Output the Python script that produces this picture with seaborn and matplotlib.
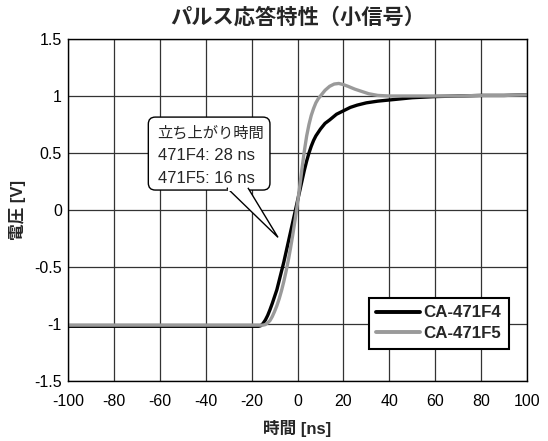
import numpy as np
import pandas as pd
import seaborn as sns
import matplotlib.pyplot as plt
from matplotlib.patches import FancyBboxPatch, Polygon

# Step response samples (time in ns, normalised voltage)
t_f4 = [-100, -80, -60, -40, -20, -17, -16, -15, -14, -13, -12, -11, -10, -9, -8, -7, -6, -5,
        -4, -3, -2, -1, 0, 1, 2, 3, 4, 5, 6, 7, 8, 10, 12, 14, 17, 20, 23, 26, 30, 35, 40, 50,
        60, 70, 80, 90, 100]
v_f4 = [-1.02, -1.02, -1.02, -1.02, -1.02, -1.02, -1.015, -0.995, -0.965, -0.925, -0.875,
        -0.82, -0.76, -0.70, -0.62, -0.54, -0.46, -0.37, -0.28, -0.19, -0.10, -0.01, 0.08,
        0.17, 0.26, 0.35, 0.43, 0.50, 0.56, 0.61, 0.65, 0.71, 0.76, 0.79, 0.84, 0.87, 0.90,
        0.92, 0.94, 0.955, 0.965, 0.985, 0.995, 1.0, 1.005, 1.005, 1.01]

t_f5 = [-100, -80, -60, -40, -20, -15, -14, -13, -12, -11, -10, -9, -8, -7, -6, -5, -4, -3,
        -2, -1, 0, 1, 2, 3, 4, 5, 6, 7, 8, 9, 10, 12, 14, 16, 18, 20, 22, 25, 28, 31, 35, 40,
        50, 60, 70, 80, 90, 100]
v_f5 = [-1.01, -1.01, -1.01, -1.01, -1.01, -1.01, -1.005, -0.99, -0.97, -0.935, -0.89,
        -0.84, -0.78, -0.71, -0.63, -0.54, -0.44, -0.33, -0.21, -0.08, 0.06, 0.21, 0.37, 0.52,
        0.65, 0.75, 0.83, 0.89, 0.94, 0.975, 1.0, 1.05, 1.085, 1.105, 1.11, 1.10, 1.085, 1.06,
        1.04, 1.02, 1.005, 1.0, 1.0, 1.0, 1.0, 1.005, 1.005, 1.01]

series_names = ["CA-471F4", "CA-471F5"]
series_colors = ["#000000", "#9a9a9a"]

x_ticks = [-100, -80, -60, -40, -20, 0, 20, 40, 60, 80, 100]
y_ticks = [-1.5, -1, -0.5, 0, 0.5, 1, 1.5]
y_tick_labels = ["-1.5", "-1", "-0.5", "0", "0.5", "1", "1.5"]

title = "パルス応答特性（小信号）"
x_label = "時間 [ns]"
y_label = "電圧 [V]"
note_lines = ["立ち上がり時間", "471F4: 28 ns", "471F5: 16 ns"]

df = pd.concat([
    pd.DataFrame({"t": t_f4, "v": v_f4, "series": series_names[0]}),
    pd.DataFrame({"t": t_f5, "v": v_f5, "series": series_names[1]}),
], ignore_index=True)

sns.set_theme(style="white")
plt.rcParams["font.family"] = ["Liberation Sans", "Noto Sans CJK JP", "DejaVu Sans"]
plt.rcParams["axes.unicode_minus"] = False

fig = plt.figure(figsize=(5.48, 4.41), dpi=100)
ax = fig.add_axes([68 / 548, 1 - 381 / 441, (527 - 68) / 548, (381 - 39) / 441])

sns.lineplot(data=df, x="t", y="v", hue="series", palette=dict(zip(series_names, series_colors)),
             hue_order=series_names, linewidth=2.4, ax=ax, legend=False, sort=False,
             estimator=None)

ax.set_xlim(-100, 100)
ax.set_ylim(-1.5, 1.5)
ax.set_xticks(x_ticks)
ax.set_yticks(y_ticks)
ax.set_yticklabels(y_tick_labels)
ax.tick_params(axis="both", length=0, labelsize=11.5, colors="black")
ax.tick_params(axis="x", pad=9)
ax.tick_params(axis="y", pad=4.5)
ax.grid(True, color="#333333", linewidth=0.9)
ax.set_axisbelow(True)
for s in ax.spines.values():
    s.set_color("black")
    s.set_linewidth(1.0)

ax.set_xlabel(x_label, fontsize=12, fontweight="bold", labelpad=8)
ax.set_ylabel(y_label, fontsize=12, fontweight="bold", labelpad=6)
fig.text((68 + 527) / 2 / 548, 1 - 17 / 441, title, ha="center", va="center",
         fontsize=15.3, fontweight="bold")

# Speech-bubble callout
px_x = 200 / (527 - 68)   # ns per pixel
px_y = 3.0 / (381 - 39)   # volts per pixel
bx0, bx1 = -65.0, -12.0
by0, by1 = 0.175, 0.815
tip = (-8.5, -0.24)
base_l, base_r = -30.8, -21.6
wedge = Polygon([(base_l, by0 + 0.02), tip, (base_r, by0 + 0.02)], closed=False,
                facecolor="white", edgecolor="black", linewidth=1.0, zorder=5)
ax.add_patch(wedge)
box = FancyBboxPatch((bx0, by0), bx1 - bx0, by1 - by0,
                     boxstyle=f"round,pad=0,rounding_size={7 * px_x}",
                     mutation_aspect=px_y / px_x,
                     facecolor="white", edgecolor="black", linewidth=1.0, zorder=4)
ax.add_patch(box)
cover = Polygon([(base_l + 0.6, by0 + 0.03), (base_l + 0.6, by0 - 0.01),
                 (base_r - 0.3, by0 - 0.01), (base_r - 0.3, by0 + 0.03)],
                closed=True, facecolor="white", edgecolor="none", zorder=6)
ax.add_patch(cover)
wedge_fill = Polygon([(base_l + 0.6, by0 + 0.01), (tip[0] - 0.8, tip[1] + 0.04),
                      (base_r - 0.3, by0 + 0.01)],
                     closed=True, facecolor="white", edgecolor="none", zorder=4.5)
ax.add_patch(wedge_fill)
line_y = [0.675, 0.48, 0.28]
line_size = [11.0, 12, 12]
for txt, yy, fs in zip(note_lines, line_y, line_size):
    ax.text(bx0 + 4.0, yy, txt, fontsize=fs, ha="left", va="center", zorder=7)

# Legend
handles = [plt.Line2D([], [], color=c, linewidth=2.8) for c in series_colors]
leg = ax.legend(handles, series_names, loc="lower right",
                bbox_to_anchor=((509 - 68) / (527 - 68), (381 - 349) / (381 - 39)),
                frameon=True, fancybox=False, handlelength=2.6, handletextpad=0.2,
                borderpad=0.45, labelspacing=0.35, borderaxespad=0,
                prop={"weight": "bold", "size": 12.2})
leg.get_frame().set_edgecolor("black")
leg.get_frame().set_linewidth(1.5)
leg.get_frame().set_facecolor("white")
leg.get_frame().set_alpha(1)
leg.set_zorder(8)

fig.savefig("out.png", dpi=100)
